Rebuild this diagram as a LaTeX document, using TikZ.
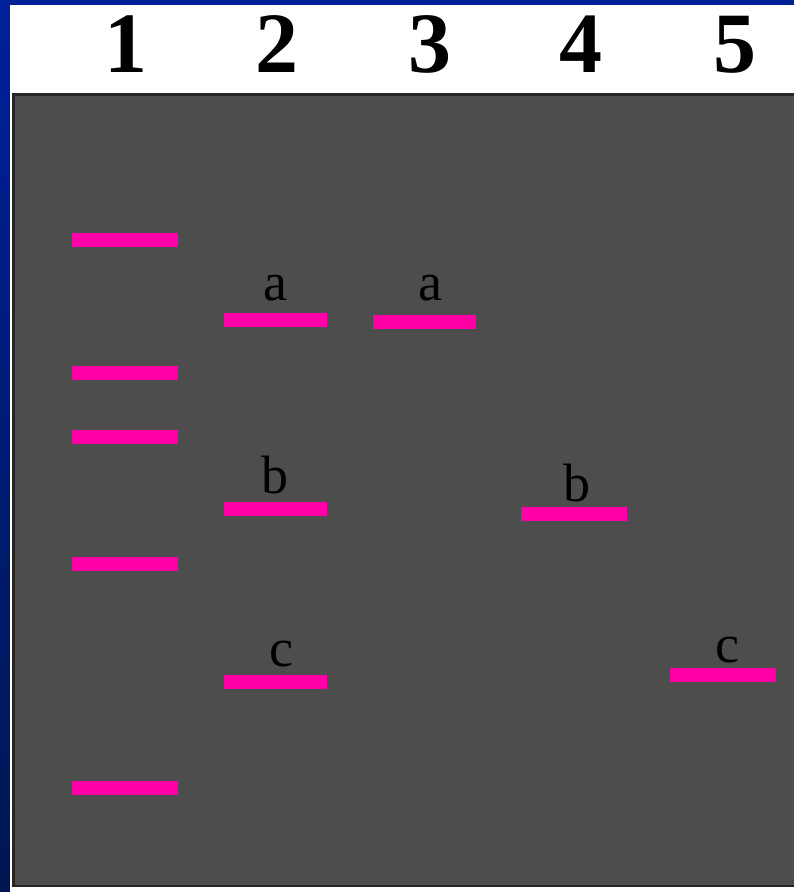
\documentclass[tikz,border=0pt]{standalone}
\usepackage{fontspec}
\setmainfont{Liberation Serif}
\definecolor{bgblue}{HTML}{00209A}
\definecolor{bgnavy}{HTML}{001650}
\definecolor{gelgray}{HTML}{4D4D4D}
\definecolor{bandpink}{HTML}{FF00A6}
\begin{document}
\begin{tikzpicture}[x=1pt,y=-1pt,
  band/.style={fill=bandpink,draw=none,minimum width=105pt,minimum height=14pt,inner sep=0pt,anchor=center},
  lanenum/.style={font=\fontsize{86}{90}\selectfont\bfseries,inner sep=0pt,anchor=base},
  bandlabel/.style={font=\fontsize{54}{58}\selectfont,inner sep=0pt,anchor=base,text=black}]
\useasboundingbox (0,0) rectangle (794,892);
\shade[top color=bgblue,bottom color=bgnavy] (0,0) rectangle (794,892);
\fill[white] (10,5) rectangle (794,892);
\fill[gelgray] (12,93) rectangle (794,887);
\draw[black!85,line width=2.5pt] (13.25,94.25) rectangle (800,885.75);
% lane numbers
\node[lanenum] (n1) at (126,72) {1};
\node[lanenum] (n2) at (277,72) {2};
\node[lanenum] (n3) at (430,72) {3};
\node[lanenum] (n4) at (581,72) {4};
\node[lanenum] (n5) at (735,72) {5};
% lane 1 ladder
\node[band,minimum width=106pt] (l1a) at (125,240) {};
\node[band,minimum width=106pt] (l1b) at (125,372.5) {};
\node[band,minimum width=106pt] (l1c) at (125,437) {};
\node[band,minimum width=106pt] (l1d) at (125,564) {};
\node[band,minimum width=106pt] (l1e) at (125,788) {};
% lane 2
\node[band,minimum width=103pt] (l2a) at (275.5,319.5) {};
\node[band,minimum width=103pt] (l2b) at (275.5,509) {};
\node[band,minimum width=103pt] (l2c) at (275.5,682) {};
% lane 3
\node[band,minimum width=103pt] (l3a) at (424.5,322) {};
% lane 4
\node[band,minimum width=106pt] (l4b) at (574,514) {};
% lane 5
\node[band,minimum width=106pt] (l5c) at (723,675) {};
% labels
\node[bandlabel] (t2a) at (275,300) {a};
\node[bandlabel] (t3a) at (430,300) {a};
\node[bandlabel] (t2b) at (275,493) {b};
\node[bandlabel] (t4b) at (577,501) {b};
\node[bandlabel] (t2c) at (281,666) {c};
\node[bandlabel] (t5c) at (727,662) {c};
\end{tikzpicture}
\end{document}
